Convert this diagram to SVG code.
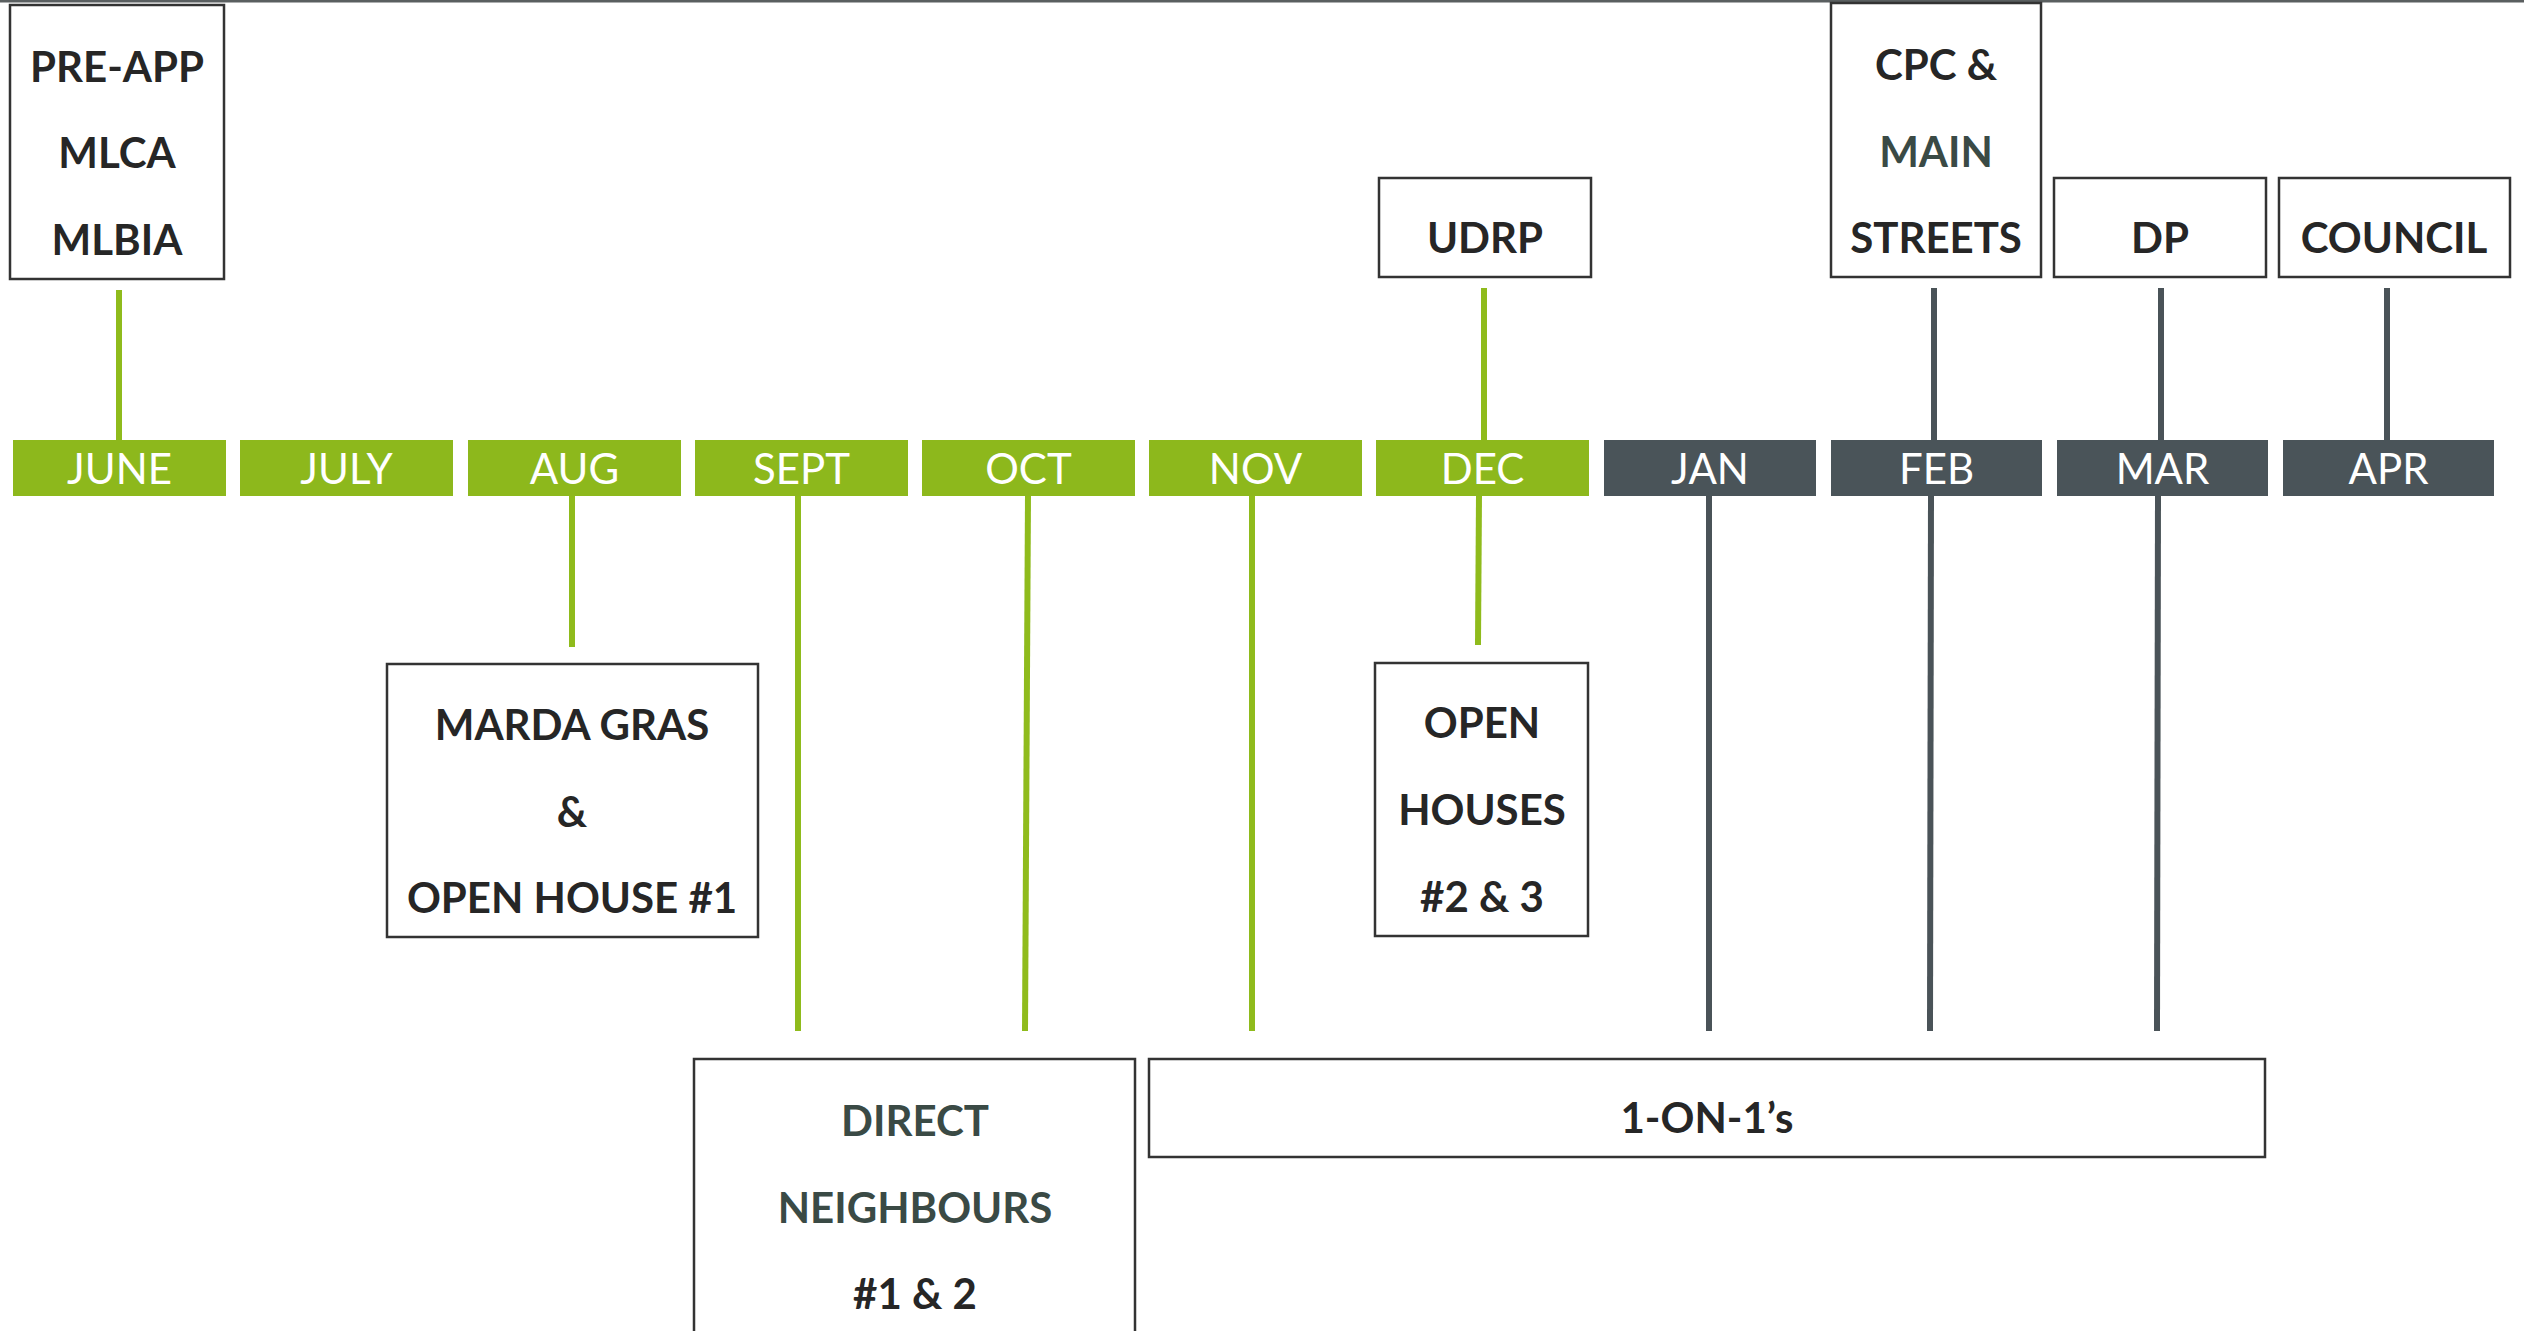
<svg xmlns="http://www.w3.org/2000/svg" width="2524" height="1331" viewBox="0 0 2524 1331">
<style>
.bg{fill:#ffffff}
.box{fill:#ffffff;stroke:#333333;stroke-width:2.5}
.lbl{font-family:Lato,"Open Sans","Liberation Sans",sans-serif;font-weight:700;font-size:42px;fill:#262626;text-anchor:middle}
.teal{fill:#3a4a45}
.mg{fill:#8db81c}
.md{fill:#4a5459}
.mtxt{font-family:Lato,"Open Sans","Liberation Sans",sans-serif;font-weight:400;font-size:42px;fill:#ffffff;text-anchor:middle}
.cg{stroke:#8fbb1c;stroke-width:6;fill:none}
.cd{stroke:#4a5358;stroke-width:6;fill:none}
</style>
<rect class="bg" x="0" y="0" width="2524" height="1331"/>
<line x1="0" y1="1" x2="2524" y2="1" stroke="#5a5f60" stroke-width="3"/>

<g id="connectors">
<line class="cg" x1="119" y1="290" x2="119" y2="441"/>
<line class="cg" x1="1484" y1="288" x2="1484" y2="441"/>
<line class="cd" x1="1934" y1="288" x2="1934" y2="441"/>
<line class="cd" x1="2161" y1="288" x2="2161" y2="441"/>
<line class="cd" x1="2387" y1="288" x2="2387" y2="441"/>
<line class="cg" x1="572" y1="495" x2="572" y2="647"/>
<line class="cg" x1="798" y1="495" x2="798" y2="1031"/>
<line class="cg" x1="1028" y1="495" x2="1025" y2="1031"/>
<line class="cg" x1="1252" y1="495" x2="1252" y2="1031"/>
<line class="cg" x1="1479" y1="495" x2="1478" y2="645"/>
<line class="cd" x1="1709" y1="495" x2="1709" y2="1031"/>
<line class="cd" x1="1931" y1="495" x2="1930" y2="1031"/>
<line class="cd" x1="2158" y1="495" x2="2157" y2="1031"/>
</g>

<g id="month-june"><rect class="mg" x="13" y="440" width="213" height="56"/><text class="mtxt" x="119.5" y="484">JUNE</text></g>
<g id="month-july"><rect class="mg" x="240" y="440" width="213" height="56"/><text class="mtxt" x="346.5" y="484">JULY</text></g>
<g id="month-aug"><rect class="mg" x="468" y="440" width="213" height="56"/><text class="mtxt" x="574.5" y="484">AUG</text></g>
<g id="month-sept"><rect class="mg" x="695" y="440" width="213" height="56"/><text class="mtxt" x="801.5" y="484">SEPT</text></g>
<g id="month-oct"><rect class="mg" x="922" y="440" width="213" height="56"/><text class="mtxt" x="1028.5" y="484">OCT</text></g>
<g id="month-nov"><rect class="mg" x="1149" y="440" width="213" height="56"/><text class="mtxt" x="1255.5" y="484">NOV</text></g>
<g id="month-dec"><rect class="mg" x="1376" y="440" width="213" height="56"/><text class="mtxt" x="1482.5" y="484">DEC</text></g>
<g id="month-jan"><rect class="md" x="1604" y="440" width="212" height="56"/><text class="mtxt" x="1710" y="484">JAN</text></g>
<g id="month-feb"><rect class="md" x="1831" y="440" width="211" height="56"/><text class="mtxt" x="1936.5" y="484">FEB</text></g>
<g id="month-mar"><rect class="md" x="2057" y="440" width="211" height="56"/><text class="mtxt" x="2162.5" y="484">MAR</text></g>
<g id="month-apr"><rect class="md" x="2283" y="440" width="211" height="56"/><text class="mtxt" x="2388.5" y="484">APR</text></g>

<g id="preapp"><rect class="box" x="10" y="5" width="214" height="274"/>
<text class="lbl" x="117" y="82">PRE-APP</text><text class="lbl" x="117" y="168">MLCA</text><text class="lbl" x="117" y="255">MLBIA</text></g>

<g id="udrp"><rect class="box" x="1379" y="178" width="212" height="99"/><text class="lbl" x="1485" y="253">UDRP</text></g>

<g id="cpc"><rect class="box" x="1831" y="3" width="210" height="274"/>
<text class="lbl" x="1936" y="80">CPC &amp;</text><text class="lbl teal" x="1936" y="167">MAIN</text><text class="lbl" x="1936" y="253">STREETS</text></g>

<g id="dp"><rect class="box" x="2054" y="178" width="212" height="99"/><text class="lbl" x="2160" y="253">DP</text></g>

<g id="council"><rect class="box" x="2279" y="178" width="231" height="99"/><text class="lbl" x="2394" y="253">COUNCIL</text></g>

<g id="marda"><rect class="box" x="387" y="664" width="371" height="273"/>
<text class="lbl" x="572" y="740">MARDA GRAS</text><text class="lbl" x="572" y="827">&amp;</text><text class="lbl" x="572" y="913">OPEN HOUSE #1</text></g>

<g id="openhouses"><rect class="box" x="1375" y="663" width="213" height="273"/>
<text class="lbl" x="1482" y="738">OPEN</text><text class="lbl" x="1482" y="825">HOUSES</text><text class="lbl" x="1482" y="912">#2 &amp; 3</text></g>

<g id="direct"><rect class="box" x="694" y="1059" width="441" height="290"/>
<text class="lbl teal" x="915" y="1136">DIRECT</text><text class="lbl teal" x="915" y="1223">NEIGHBOURS</text><text class="lbl" x="915" y="1309">#1 &amp; 2</text></g>

<g id="oneonones"><rect class="box" x="1149" y="1059" width="1116" height="98"/>
<text class="lbl" x="1707" y="1133">1-ON-1’s</text></g>
</svg>
